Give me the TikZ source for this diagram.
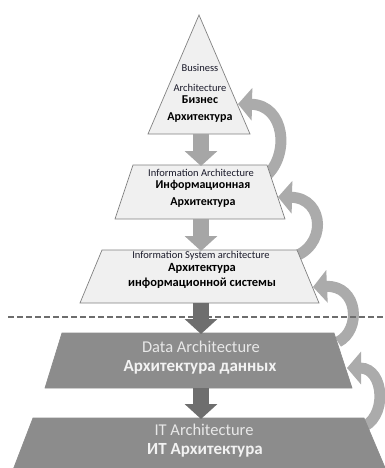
\documentclass[tikz,border=0pt]{standalone}
\usepackage{fontspec}
\setmainfont{Carlito}
\usetikzlibrary{arrows.meta}

\definecolor{layerlight}{HTML}{F0F0F0}
\definecolor{layerdark}{HTML}{8C8C8C}
\definecolor{edgegray}{HTML}{808080}
\definecolor{arrowlight}{HTML}{A6A6A6}
\definecolor{arrowdark}{HTML}{6E6E6E}
\definecolor{curvegray}{HTML}{ABABAB}
\definecolor{textdark}{HTML}{1A1A2A}
\definecolor{textlight}{HTML}{F2F2F2}

\tikzset{
  lightlayer/.style={fill=layerlight, draw=edgegray, line width=0.7pt},
  darklayer/.style={fill=layerdark, draw=layerdark, line width=0.7pt},
  downarrow/.style={line width=16pt, -{Triangle[width=32pt,length=15pt]}},
  backarrow/.style={draw=curvegray, line width=11pt, -{Triangle[width=32pt,length=14pt]}},
  sepline/.style={draw=edgegray!85!black, line width=1.8pt, dash pattern=on 6pt off 3pt},
  entext/.style={font=\fontsize{10.5}{20}\selectfont, text=textdark, align=center, inner sep=0pt},
  rutext/.style={font=\bfseries\fontsize{12}{17}\selectfont, text=black, align=center, inner sep=0pt},
  enbig/.style={font=\fontsize{16.5}{19}\selectfont, text=textlight!90!layerdark, inner sep=0pt},
  rubig/.style={font=\bfseries\fontsize{17}{20}\selectfont, text=textlight, inner sep=0pt}
}

\begin{document}
\begin{tikzpicture}[x=1pt,y=-1pt]
    \useasboundingbox (0,0) rectangle (385,468);
    \clip (0,0) rectangle (385,468);

    \coordinate (A0) at (199,15);
    \coordinate (A1) at (148,134);
    \coordinate (A2) at (250,134);
    \coordinate (B1) at (115,219);
    \coordinate (B2) at (285,219);
    \coordinate (B3) at (267,165);
    \coordinate (B4) at (133,165);
    \coordinate (C1) at (80,303);
    \coordinate (C2) at (319,303);
    \coordinate (C3) at (297,250);
    \coordinate (C4) at (102,250);
    \coordinate (D1) at (45,388);
    \coordinate (D2) at (352,388);
    \coordinate (D3) at (334,333);
    \coordinate (D4) at (62,333);
    \coordinate (E1) at (13,470);
    \coordinate (E2) at (386,470);
    \coordinate (E3) at (364,418);
    \coordinate (E4) at (33,418);

    % ends of the down arrows
    \coordinate (P1) at (201,134);
    \coordinate (Q1) at (201,166);
    \coordinate (P2) at (201,219);
    \coordinate (Q2) at (201,251);
    \coordinate (P3) at (201,303);
    \coordinate (Q3) at (201,334);
    \coordinate (P4) at (201,388);
    \coordinate (Q4) at (201,419);

    % tails and tips of the curved arrows
    \coordinate (R1) at (266,176);
    \coordinate (S1) at (238,104);
    \coordinate (R2) at (290,258);
    \coordinate (S2) at (278,197);
    \coordinate (R3) at (338,342);
    \coordinate (S3) at (313,287);
    \coordinate (R4) at (360,428);
    \coordinate (S4) at (347,368);

    \coordinate (L1) at (8,317);
    \coordinate (L2) at (385,317);

    % curved arrows, under the layers
    \draw[backarrow] (R1) .. controls (290,155) and (285,105) .. (S1);
    \draw[backarrow] (R2) .. controls (328,248) and (325,198) .. (S2);
    \draw[backarrow] (R3) .. controls (362,330) and (358,285) .. (S3);
    \draw[backarrow] (R4) .. controls (388,420) and (385,368) .. (S4);

    \draw[lightlayer] (A0) -- (A1) -- (A2) -- cycle; % business
    \draw[lightlayer] (B1) -- (B2) -- (B3) -- (B4) -- cycle; % information
    \draw[lightlayer] (C1) -- (C2) -- (C3) -- (C4) -- cycle; % information system
    \draw[darklayer] (D1) -- (D2) -- (D3) -- (D4) -- cycle; % data
    \draw[darklayer] (E1) -- (E2) -- (E3) -- (E4) -- cycle; % IT

    \draw[sepline] (L1) -- (L2);

    \draw[downarrow, arrowlight] (P1) -- (Q1);
    \draw[downarrow, arrowlight] (P2) -- (Q2);
    \draw[downarrow, arrowdark] (P3) -- (Q3);
    \draw[downarrow, arrowdark] (P4) -- (Q4);

    \node[entext] (en1) at (200,78) {Business\\Architecture};
    \node[rutext] (ru1) at (200,109) {Бизнес\\Архитектура};
    \node[entext] (en2) at (201,173) {Information Architecture};
    \node[rutext] (ru2) at (203,194) {Информационная\\Архитектура};
    \node[entext] (en3) at (201,256) {Information System architecture};
    \node[rutext, font=\bfseries\fontsize{12.5}{15}\selectfont] (ru3) at (202,276) {Архитектура\\информационной системы};
    \node[enbig] (en4) at (201,347) {Data Architecture};
    \node[rubig] (ru4) at (200,367) {Архитектура данных};
    \node[enbig] (en5) at (204,430) {IT Architecture};
    \node[rubig] (ru5) at (205,450) {ИТ Архитектура};
\end{tikzpicture}
\end{document}
